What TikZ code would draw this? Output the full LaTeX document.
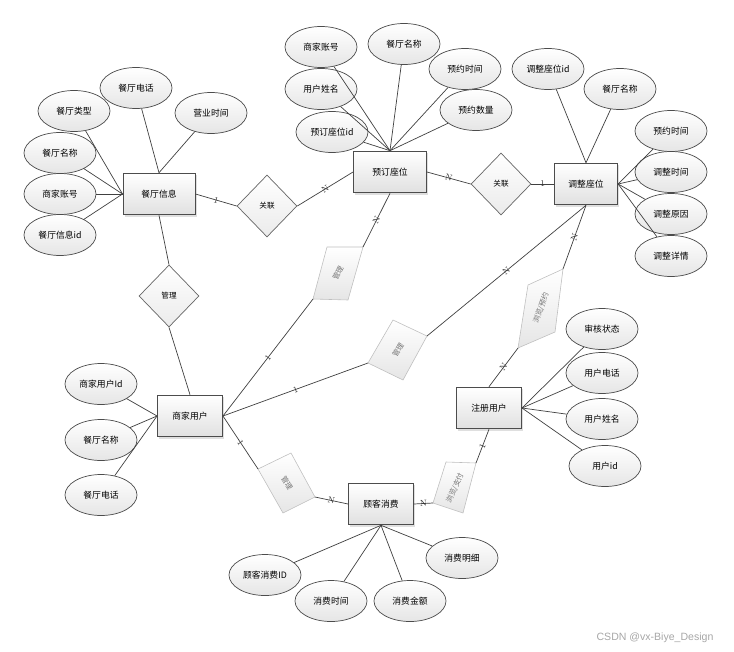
\documentclass[tikz,border=0pt]{standalone}
\usepackage{fontspec}
\newfontfamily\cjk{Noto Sans CJK SC}
\newfontfamily\markfont{Liberation Sans}
\usetikzlibrary{shapes.geometric, shadows}

\tikzset{
  entity/.style={rectangle, draw=black!70, line width=0.8pt, top color=white, bottom color=black!12,
    minimum width=19.5mm, minimum height=12.5mm, font=\cjk\fontsize{7.5}{9}\selectfont,
    drop shadow={shadow xshift=0.5mm, shadow yshift=-0.5mm, opacity=0.25}},
  attr/.style={ellipse, draw=black!70, line width=0.6pt, top color=white, bottom color=black!10,
    minimum width=21.6mm, minimum height=12.3mm, inner sep=0pt, font=\cjk\fontsize{7.5}{9}\selectfont},
  rel/.style={diamond, draw=black!60, line width=0.6pt, top color=white, bottom color=black!8,
    minimum width=18mm, minimum height=18.6mm, inner sep=0pt, font=\cjk\fontsize{6.5}{8}\selectfont},
  slantbox/.style={draw=black!25, line width=0.5pt, top color=white, bottom color=black!10},
  slanttext/.style={text=black!55, inner sep=0pt, font=\cjk\fontsize{6.2}{7}\selectfont},
  link/.style={draw=black!75, line width=0.6pt},
  card/.style={font=\fontsize{7.5}{8}\selectfont, sloped, inner sep=1pt, text=black!80},
}

\begin{document}
\begin{tikzpicture}[x=0.3mm, y=-0.3mm]
  \useasboundingbox (0,0) rectangle (734,651);

  % entities
  \node[entity, minimum width=21.6mm] (info) at (159,194) {餐厅信息};
  \node[entity, minimum width=21.9mm] (book) at (390,172) {预订座位};
  \node[entity, minimum width=19mm] (adjust) at (586,184) {调整座位};
  \node[entity] (merchant) at (190,416) {商家用户};
  \node[entity] (user) at (489,408) {注册用户};
  \node[entity] (consume) at (381,504) {顾客消费};

  % attributes of 餐厅信息
  \node[attr] (infoTel) at (136,88) {餐厅电话};
  \node[attr] (infoType) at (74,111) {餐厅类型};
  \node[attr] (infoHours) at (211,113) {营业时间};
  \node[attr] (infoName) at (60,153) {餐厅名称};
  \node[attr] (infoAcct) at (60,194) {商家账号};
  \node[attr] (infoId) at (60,235) {餐厅信息id};
  \foreach \a in {infoTel, infoHours} \draw[link] (info.north) -- (\a);
  \foreach \a in {infoType, infoName, infoAcct, infoId} \draw[link] (info.west) -- (\a);

  % attributes of 预订座位
  \node[attr] (bookAcct) at (321,47) {商家账号};
  \node[attr] (bookName) at (404,44) {餐厅名称};
  \node[attr] (bookUser) at (321,89) {用户姓名};
  \node[attr] (bookTime) at (465,69) {预约时间};
  \node[attr] (bookId) at (332,132) {预订座位id};
  \node[attr] (bookNum) at (476,110) {预约数量};
  \foreach \a in {bookAcct, bookName, bookUser, bookTime, bookId, bookNum}
    \draw[link] (book.north) -- (\a);

  % attributes of 调整座位
  \node[attr] (adjId) at (548,69) {调整座位id};
  \node[attr] (adjName) at (620,89) {餐厅名称};
  \node[attr] (adjBook) at (671,131) {预约时间};
  \node[attr] (adjTime) at (671,172) {调整时间};
  \node[attr] (adjWhy) at (671,214) {调整原因};
  \node[attr] (adjInfo) at (671,256) {调整详情};
  \foreach \a in {adjId, adjName} \draw[link] (adjust.north) -- (\a);
  \foreach \a in {adjBook, adjTime, adjWhy, adjInfo} \draw[link] (adjust.east) -- (\a);

  % attributes of 商家用户
  \node[attr] (merId) at (101,384) {商家用户Id};
  \node[attr] (merName) at (101,440) {餐厅名称};
  \node[attr] (merTel) at (101,495) {餐厅电话};
  \foreach \a in {merId, merName, merTel} \draw[link] (merchant.west) -- (\a);

  % attributes of 注册用户
  \node[attr] (userState) at (602,329) {审核状态};
  \node[attr] (userTel) at (602,373) {用户电话};
  \node[attr] (userName) at (602,419) {用户姓名};
  \node[attr] (userId) at (605,466) {用户id};
  \foreach \a in {userState, userTel, userName, userId} \draw[link] (user.east) -- (\a);

  % attributes of 顾客消费
  \node[attr] (conId) at (265,575) {顾客消费ID};
  \node[attr] (conTime) at (331,601) {消费时间};
  \node[attr] (conSum) at (410,601) {消费金额};
  \node[attr] (conList) at (462,558) {消费明细};
  \foreach \a in {conId, conTime, conSum, conList} \draw[link] (consume.south) -- (\a);

  % relations
  \node[rel] (link1) at (267,206) {关联};
  \node[rel] (link2) at (501,184) {关联};
  \node[rel] (manage0) at (169,296) {管理};
  \draw[link] (info.east) -- node[card]{1} (link1.west);
  \draw[link] (link1.east) -- node[card]{N} (book.west);
  \draw[link] (book.east) -- node[card]{N} (link2.west);
  \draw[link] (link2.east) -- node[card]{1} (adjust.west);
  \draw[link] (info.south) -- (manage0.north);
  \draw[link] (manage0.south) -- (merchant.north);

  % slanted relations
  \coordinate (m1sw) at (313,299); \coordinate (m1nw) at (327,247);
  \coordinate (m1ne) at (363,247); \coordinate (m1se) at (348,300);
  \draw[slantbox] (m1sw) -- (m1nw) -- (m1ne) -- (m1se) -- cycle;
  \node[slanttext, rotate=62] (manage1) at (338,273) {管理};

  \coordinate (m2w) at (368,363); \coordinate (m2n) at (393,320);
  \coordinate (m2e) at (427,336); \coordinate (m2s) at (403,380);
  \draw[slantbox] (m2w) -- (m2n) -- (m2e) -- (m2s) -- cycle;
  \node[slanttext, rotate=58] (manage2) at (398,350) {管理};

  \coordinate (b1ne) at (563,269); \coordinate (b1nw) at (528,285);
  \coordinate (b1sw) at (518,348); \coordinate (b1se) at (555,332);
  \draw[slantbox] (b1ne) -- (b1nw) -- (b1sw) -- (b1se) -- cycle;
  \node[slanttext, rotate=70] (browse1) at (541,308) {浏览/预约};

  \coordinate (m3n) at (291,453); \coordinate (m3e) at (315,497);
  \coordinate (m3s) at (283,513); \coordinate (m3w) at (258,469);
  \draw[slantbox] (m3n) -- (m3e) -- (m3s) -- (m3w) -- cycle;
  \node[slanttext, rotate=-58] (manage3) at (287,483) {管理};

  \coordinate (b2nw) at (446,462); \coordinate (b2ne) at (476,463);
  \coordinate (b2se) at (463,513); \coordinate (b2sw) at (433,503);
  \draw[slantbox] (b2nw) -- (b2ne) -- (b2se) -- (b2sw) -- cycle;
  \node[slanttext, rotate=66] (browse2) at (455,488) {浏览/支付};

  \draw[link] (merchant.east) -- node[card]{1} (m1sw);
  \draw[link] (m1ne) -- node[card]{N} (book.south);
  \draw[link] (merchant.east) -- node[card]{1} (m2w);
  \draw[link] (m2e) -- node[card]{N} (adjust.south);
  \draw[link] (user.north) -- node[card]{N} (b1sw);
  \draw[link] (b1ne) -- node[card]{N} (adjust.south);
  \draw[link] (merchant.east) -- node[card]{1} (m3w);
  \draw[link] (m3e) -- node[card]{N} (consume.west);
  \draw[link] (consume.east) -- node[card]{N} (b2sw);
  \draw[link] (b2ne) -- node[card]{1} (user.south);

  \node[text=black!35, font=\markfont\fontsize{9}{10}\selectfont] (mark) at (655,638) {CSDN @vx-Biye\_Design};
\end{tikzpicture}
\end{document}
